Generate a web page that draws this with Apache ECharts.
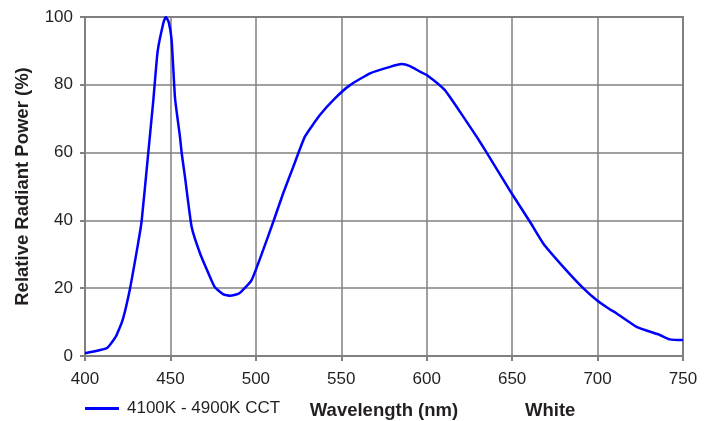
<!DOCTYPE html>
<html>
<head>
<meta charset="utf-8">
<script src="https://cdn.jsdelivr.net/npm/echarts@6/dist/echarts.min.js"></script>
<style>
  html, body { margin: 0; padding: 0; background: #fff; }
  #chart { width: 713px; height: 421px; }
</style>
</head>
<body>
<div id="chart"></div>
<script>
// spectrum
const wavelength = [400, 413, 418, 422, 426.3, 431, 433.1, 437, 440, 442.5, 446, 447.3, 449, 450.7,
  452.7, 455.5, 456.6, 458.5, 462.4, 467.3, 473.1, 476, 481, 485, 489, 491, 497.5, 504.3,
  510.2, 516, 521.9, 528.7, 537.5, 546.3, 555.1, 566.8, 578.5, 585.3, 590.2, 596, 600,
  610.5, 619.4, 629.2, 634.1, 649.7, 660.4, 668.2, 679.9, 691.6, 699.4, 706.2, 711, 722.8,
  736.4, 742.3, 749.1, 750]
const power = [0.8, 2.4, 5.7, 10.6, 19.8, 33, 39.6, 59.8, 75.5, 89.8, 98.5, 100, 98.5, 93.2,
  76, 65, 59.8, 52.9, 38.1, 30.3, 23.4, 20.3, 18.2, 17.8, 18.2, 18.8, 22.4, 31.3,
  39.6, 48, 55.8, 64.7, 71.1, 76, 79.9, 83.4, 85.3, 86.1, 85.5, 83.9, 82.9,
  78.5, 72.1, 64.7, 60.8, 48, 39.6, 33.2, 26.3, 20, 16.5, 14.1, 12.6, 8.6,
  6.2, 4.9, 4.7, 4.7]
const seriesName = '4100K - 4900K CCT'

const chart = echarts.init(document.getElementById('chart'))
const gridColor = '#808080'
const textColor = '#231f20'

chart.setOption({
  animation: false,
  textStyle: { fontFamily: 'Liberation Sans, Arial, sans-serif' },
  title: {
    text: 'White',
    left: 520,
    top: 396,
    textStyle: { fontSize: 18.5, fontWeight: 'bold', color: textColor, fontFamily: 'Liberation Sans' }
  },
  legend: {
    left: 80,
    top: 395,
    icon: 'rect',
    itemWidth: 34,
    itemHeight: 3,
    textStyle: { fontSize: 17, color: textColor, fontFamily: 'Liberation Sans', padding: [0, 0, 0, 3] },
    data: [seriesName]
  },
  grid: {
    left: 85,
    right: 30,
    top: 17,
    bottom: 65,
    outerBoundsMode: 'none',
    show: true,
    borderColor: gridColor,
    borderWidth: 2
  },
  xAxis: {
    type: 'value',
    min: 400,
    max: 750,
    interval: 50,
    name: 'Wavelength (nm)',
    nameLocation: 'middle',
    nameGap: 45,
    nameTextStyle: { fontSize: 18.5, fontWeight: 'bold', color: textColor },
    axisLine: { lineStyle: { color: gridColor, width: 2 } },
    axisTick: { length: 5, lineStyle: { color: gridColor, width: 2 } },
    axisLabel: { fontSize: 17, color: textColor, margin: 15 },
    splitLine: { lineStyle: { color: gridColor, width: 1.5 } }
  },
  yAxis: {
    type: 'value',
    min: 0,
    max: 100,
    interval: 20,
    name: 'Relative Radiant Power (%)',
    nameLocation: 'middle',
    nameGap: 53,
    nameTextStyle: { fontSize: 18.5, fontWeight: 'bold', color: textColor },
    axisLine: { show: true, lineStyle: { color: gridColor, width: 2 } },
    axisTick: { show: true, length: 5, lineStyle: { color: gridColor, width: 2 } },
    axisLabel: { fontSize: 17, color: textColor, margin: 12 },
    splitLine: { lineStyle: { color: gridColor, width: 1.5 } }
  },
  series: [
    {
      name: seriesName,
      type: 'line',
      data: wavelength.map((w, i) => [w, power[i]]),
      showSymbol: false,
      smooth: 0.15,
      lineStyle: { color: '#0000ff', width: 2.5 },
      itemStyle: { color: '#0000ff' }
    }
  ]
})
</script>
</body>
</html>
